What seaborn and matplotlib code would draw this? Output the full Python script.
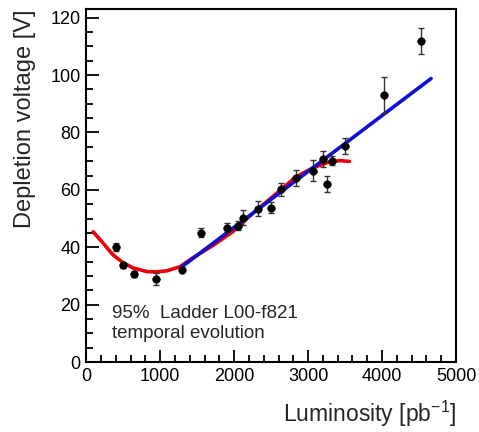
import numpy as np
import pandas as pd
import seaborn as sns
import matplotlib.pyplot as plt
from matplotlib.ticker import MultipleLocator

# measured points
lumi = [404, 500, 645, 940, 1294, 1550, 1900, 2048, 2116, 2318, 2493, 2628,
        2830, 3060, 3208, 3250, 3330, 3505, 4030, 4530]
volt = [40.1, 33.8, 30.6, 29.0, 32.2, 45.0, 46.8, 47.5, 50.3, 53.4, 53.8, 60.2,
        64.2, 66.7, 70.8, 62.1, 70.2, 75.4, 93.2, 112.0]
err = [1.4, 1.0, 1.0, 2.0, 1.0, 1.6, 1.6, 1.6, 2.6, 2.6, 1.8, 2.2,
       2.7, 3.7, 2.9, 2.7, 1.6, 2.8, 6.3, 4.5]

# red fit curve
red_x = [94, 189, 364, 499, 633, 822, 957, 1092, 1267, 1442, 1712, 1981,
         2251, 2520, 2628, 2830, 3060, 3248, 3423, 3558]
red_y = [45.4, 42.6, 37.3, 34.6, 32.8, 31.5, 31.4, 31.8, 33.2, 36.3, 40.6, 45.4,
         51.8, 57.6, 60.0, 64.4, 67.6, 69.4, 70.2, 69.9]

# blue linear fit
blue_x = [1294, 4663]
blue_y = [33.2, 98.8]

sns.set_theme(style="ticks")
plt.rcParams['font.family'] = ['Liberation Sans', 'DejaVu Sans']

fig = plt.figure(figsize=(4.79, 4.32), dpi=100)
ax = fig.add_axes([0.18, 0.162, 0.772, 0.817])

df_red = pd.DataFrame({"x": red_x, "y": red_y})
df_blue = pd.DataFrame({"x": blue_x, "y": blue_y})
sns.lineplot(data=df_red, x="x", y="y", color="#e8000b", lw=2.6, sort=False, ax=ax, zorder=3)
sns.lineplot(data=df_blue, x="x", y="y", color="#1010d0", lw=2.6, sort=False, ax=ax, zorder=4)

ax.errorbar(lumi, volt, yerr=err, fmt="none", ecolor="#333333", elinewidth=1.0,
            capsize=2.5, capthick=1.0, zorder=5)
sns.scatterplot(x=lumi, y=volt, color="black", s=30, edgecolor="black", ax=ax, zorder=6)

ax.set_xlim(0, 5000)
ax.set_ylim(0, 123)
ax.xaxis.set_major_locator(MultipleLocator(1000))
ax.xaxis.set_minor_locator(MultipleLocator(200))
ax.yaxis.set_major_locator(MultipleLocator(20))
ax.yaxis.set_minor_locator(MultipleLocator(5))
ax.tick_params(which="both", direction="in", top=False, right=False, width=1.3,
               labelsize=13, colors="black", pad=4)
ax.tick_params(which="major", length=9)
ax.tick_params(which="minor", length=5)
for s in ax.spines.values():
    s.set_linewidth(1.5)
    s.set_color("black")

ax.set_xlabel(r"Luminosity [pb$^{\mathregular{-1}}$]", fontsize=16.5, ha="right", x=1.0)
ax.set_ylabel("Depletion voltage [V]", fontsize=17, ha="right", y=1.0)
ax.xaxis.set_label_coords(1.0, -0.105)
ax.yaxis.set_label_coords(-0.135, 1.0)

ax.text(0.07, 0.056, "95%  Ladder L00-f821\ntemporal evolution", transform=ax.transAxes,
        fontsize=13.5, ha="left", va="bottom", linespacing=1.25)

fig.savefig("out.png", dpi=100)
